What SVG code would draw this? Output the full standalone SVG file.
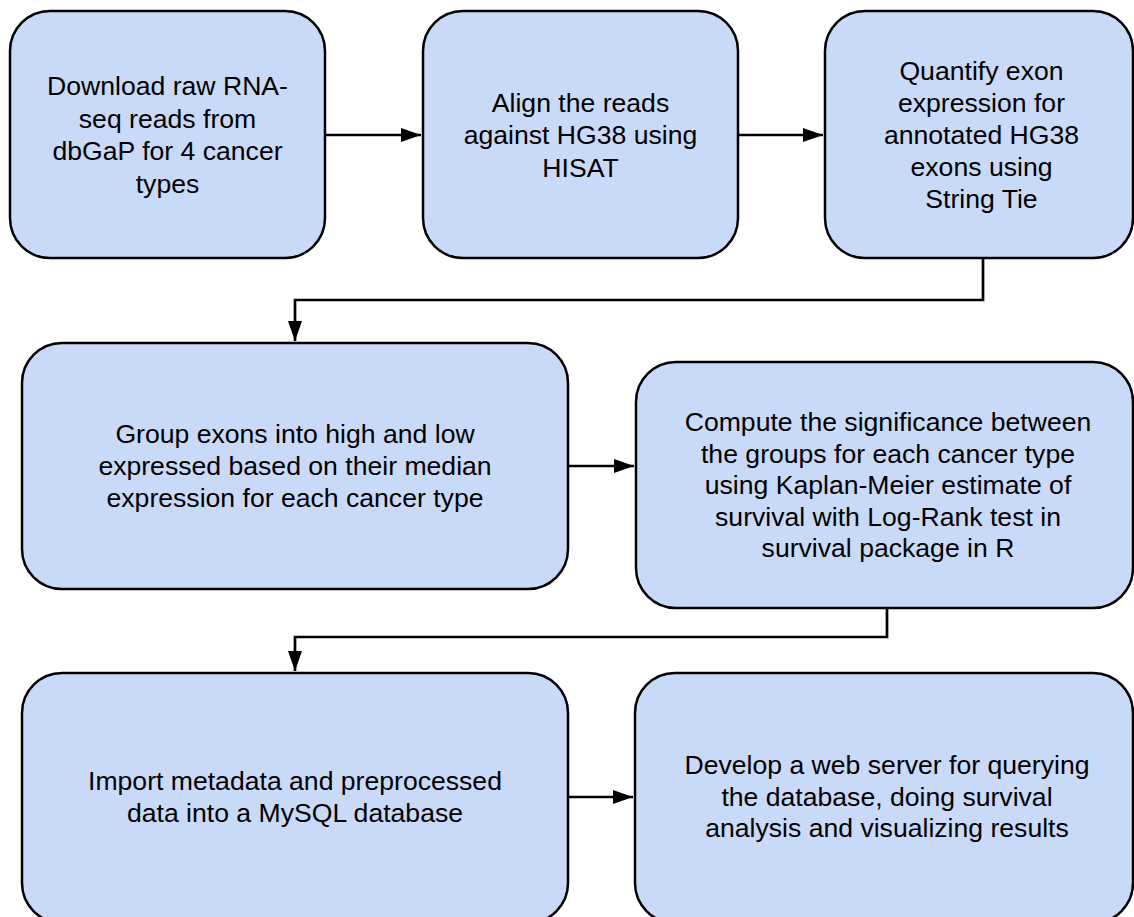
<svg xmlns="http://www.w3.org/2000/svg" width="1134" height="917" viewBox="0 0 1134 917">
<defs>
<style>
.box{fill:#c9daf8;stroke:#000;stroke-width:2.5}
.t{font-family:"Liberation Sans",Arial,sans-serif;font-size:26.6px;fill:#000;text-anchor:middle}
.c{fill:none;stroke:#000;stroke-width:2.7}
</style>
<marker id="ah" markerUnits="userSpaceOnUse" markerWidth="22" markerHeight="16" refX="20" refY="7" orient="auto">
<path d="M0,0 L20,7 L0,14 Z" fill="#000"/>
</marker>
</defs>
<rect width="1134" height="917" fill="#fff"/>
<g id="connectors">
<path class="c" d="M325,135 H421" marker-end="url(#ah)"/>
<path class="c" d="M738,135 H823" marker-end="url(#ah)"/>
<path class="c" d="M983,258 V300 H295 V341" marker-end="url(#ah)"/>
<path class="c" d="M568,466 H634" marker-end="url(#ah)"/>
<path class="c" d="M887,608 V637 H295 V671" marker-end="url(#ah)"/>
<path class="c" d="M568,797 H633" marker-end="url(#ah)"/>
</g>
<g id="n1">
<rect class="box" x="10" y="11" width="315" height="247" rx="40"/>
<text class="t"><tspan x="167.5" y="95">Download raw RNA-</tspan><tspan x="167.5" y="127.5">seq reads from</tspan><tspan x="167.5" y="160">dbGaP for 4 cancer</tspan><tspan x="167.5" y="192.5">types</tspan></text>
</g>
<g id="n2">
<rect class="box" x="423" y="11" width="315" height="247" rx="40"/>
<text class="t"><tspan x="580.5" y="111.5">Align the reads</tspan><tspan x="580.5" y="144">against HG38 using</tspan><tspan x="580.5" y="176.5">HISAT</tspan></text>
</g>
<g id="n3">
<rect class="box" x="825" y="11" width="308" height="247" rx="40"/>
<text class="t"><tspan x="981.5" y="80">Quantify exon</tspan><tspan x="981.5" y="112">expression for</tspan><tspan x="981.5" y="144">annotated HG38</tspan><tspan x="981.5" y="176">exons using</tspan><tspan x="981.5" y="208">String Tie</tspan></text>
</g>
<g id="n4">
<rect class="box" x="22" y="343" width="546" height="246" rx="40"/>
<text class="t"><tspan x="295" y="443">Group exons into high and low</tspan><tspan x="295" y="475">expressed based on their median</tspan><tspan x="295" y="507">expression for each cancer type</tspan></text>
</g>
<g id="n5">
<rect class="box" x="636" y="362" width="497" height="246" rx="40"/>
<text class="t"><tspan x="888" y="431">Compute the significance between</tspan><tspan x="888" y="462.5">the groups for each cancer type</tspan><tspan x="888" y="494">using Kaplan-Meier estimate of</tspan><tspan x="888" y="525.5">survival with Log-Rank test in</tspan><tspan x="888" y="557">survival package in R</tspan></text>
</g>
<g id="n6">
<rect class="box" x="22" y="673" width="546" height="250" rx="40"/>
<text class="t"><tspan x="295" y="790">Import metadata and preprocessed</tspan><tspan x="295" y="822">data into a MySQL database</tspan></text>
</g>
<g id="n7">
<rect class="box" x="635" y="673" width="498" height="250" rx="40"/>
<text class="t"><tspan x="887" y="774">Develop a web server for querying</tspan><tspan x="887" y="806">the database, doing survival</tspan><tspan x="887" y="837">analysis and visualizing results</tspan></text>
</g>
</svg>
